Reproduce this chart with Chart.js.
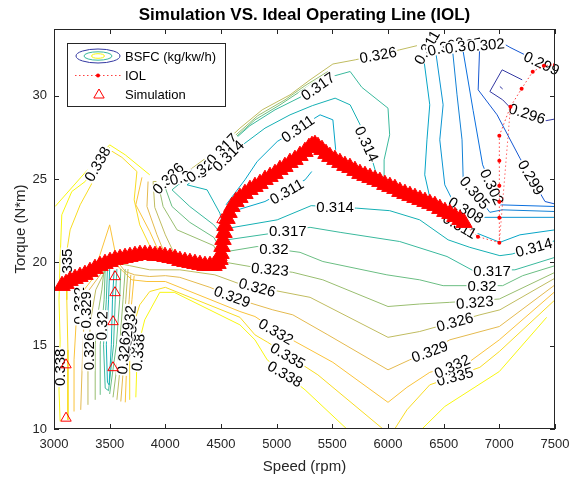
<!DOCTYPE html>
<html>
<head>
<meta charset="utf-8">
<script src="https://cdn.jsdelivr.net/npm/chart.js@4/dist/chart.umd.min.js"></script>
<style>
  html, body { margin: 0; padding: 0; background: #ffffff; }
  #wrap { width: 572px; height: 480px; }
</style>
</head>
<body>
<div id="wrap"><canvas id="map" width="572" height="480"></canvas></div>
<script>
// ---- BSFC contour levels (kg/kW/h) ----
const bsfcLevels = [0.296, 0.299, 0.302, 0.305, 0.308, 0.311, 0.314, 0.317, 0.32, 0.323, 0.326, 0.329, 0.332, 0.335, 0.338];

// Contour polylines per level, as [speed (rpm), torque (N*m)] vertices
const bsfc296 = [
  [[7205,30.95],[7025,31.55],[6915,30.25],[7030,29.75],[7095,29.3],[7420,28.5],[7500,28.6]],
  [[7005,30.55],[7030,30.4]]
];
const bsfc299 = [
  [[6825,33.25],[6810,30.35],[6980,28.85],[7185,26.25],[7410,23.65],[7500,23.5]],
  [[6980,33.35],[7095,32.9],[7230,32.45],[7500,31.55]]
];
const bsfc302 = [
  [[6665,33.05],[6765,29.1],[6850,25.85],[7005,23.45],[7500,23.35]]
];
const bsfc305 = [
  [[6575,33.05],[6620,30.05],[6665,27.35],[6675,25.1],[6915,23.0],[7025,23.15],[7500,23.05]]
];
const bsfc308 = [
  [[6420,33.05],[6495,29.45],[6465,27.35],[6510,24.65],[6600,23.45],[6845,22.7],[7025,22.7],[7500,22.7]]
];
const bsfc311 = [
  [[4545,23.45],[4715,24.95],[4825,26.05],[5005,27.25],[5390,28.85],[5505,28.55],[5530,26.75]],
  [[4600,23.05],[4895,23.65],[5255,24.95],[5315,25.45]],
  [[6305,33.05],[6375,29.45],[6350,27.35],[6330,25.25],[6375,23.9]],
  [[6555,22.45],[6780,21.8],[7005,21.2],[7185,21.65],[7500,21.95]]
];
const bsfc314 = [
  [[3500,19.6],[3490,17.75],[3470,15.05],[3480,12.8],[3495,12.65],[3515,15.05],[3525,17.75],[3540,19.5]],
  [[5910,24.95],[5845,26.45],[5750,28.25],[5660,29.45],[5525,29.85],[5320,29.4],[5120,28.85],[4895,28.05],[4715,27.15],[4355,25.4],[4195,24.65],[4375,24.35],[4490,22.95],[4525,22.0],[5005,22.55],[5310,23.4],[5720,23.25],[6015,23.1],[6285,22.55],[6540,21.35],[6735,20.9],[7005,20.4],[7115,20.5],[7500,21.3]]
];
const bsfc317 = [
  [[3480,19.6],[3470,17.75],[3445,15.05],[3460,12.45],[3490,12.3],[3535,15.05],[3550,17.75],[3565,19.6]],
  [[5970,24.95],[5965,26.15],[6015,27.65],[6000,29.25],[5765,30.5],[5660,31.45],[5525,31.2],[5210,29.9],[4985,29.15],[4760,28.2],[4600,27.25],[4310,25.7],[4060,24.35],[4220,23.35],[4435,22.25],[4525,21.5],[4555,21.35],[4915,21.7],[5300,22.1],[5570,21.8],[6105,21.25],[6530,20.35],[6765,19.5],[7140,19.55],[7500,20.3]]
];
const bsfc320 = [
  [[3415,12.05],[3415,15.05],[3450,17.75],[3460,19.6]],
  [[3500,12.1],[3560,15.05],[3590,17.75],[3600,19.6]],
  [[5405,31.1],[5210,30.25],[5030,29.45],[4805,28.55],[4605,27.35],[4400,25.95],[4220,25.05],[3990,24.65],[4060,23.35],[4220,22.4],[4435,21.5],[4500,20.75],[4555,20.65],[4825,20.95],[5210,20.6],[5415,20.05],[5990,19.25],[6285,18.95],[6495,18.6],[7030,18.6],[7210,19.2],[7500,19.8]]
];
const bsfc323 = [
  [[3370,11.75],[3370,15.05],[3400,17.15],[3430,18.35],[3450,19.6]],
  [[3530,11.9],[3590,15.05],[3620,17.75],[3640,19.6]],
  [[5460,31.45],[5255,30.6],[5075,29.75],[4830,28.8],[4635,27.65],[4420,26.3],[4220,25.25],[3935,24.75],[3980,23.35],[4105,21.95],[4435,21.0],[4500,20.05],[4760,19.75],[5145,19.4],[5415,18.95],[6000,17.35],[6285,17.5],[6555,17.6],[7000,17.8],[7500,19.4]]
];
const bsfc326 = [
  [[3305,11.45],[3305,14.15],[3330,16.55],[3375,18.35],[3500,20.05],[3680,19.8],[3860,19.55],[4130,19.55],[4445,19.25],[4670,18.7],[5030,18.25],[5300,17.9],[6000,15.5],[6285,15.85],[6825,16.85],[7005,17.15],[7500,19.05]],
  [[3565,11.75],[3615,15.05],[3645,17.75],[3665,19.6]],
  [[5505,31.9],[5300,30.95],[5120,30.05],[4870,29.15],[4670,28.05],[4445,26.65],[4220,25.55],[3950,24.85],[3890,24.85],[3905,23.3],[4000,21.65],[4085,20.45]],
  [[5505,31.9],[5705,32.15],[6105,32.75],[6260,33.0]]
];
const bsfc329 = [
  [[3240,11.15],[3255,14.15],[3270,16.55],[3305,18.25],[3415,19.25],[3520,20.45],[3640,19.45],[3725,19.25],[3860,19.15],[4000,19.2],[4130,19.1],[4400,18.5],[4510,18.2],[4670,17.75],[4965,17.15],[5145,16.85],[5460,15.65],[6000,13.55],[6195,14.15],[6375,14.65],[6555,15.35],[7000,16.15],[7500,18.65]],
  [[3600,11.65],[3640,15.05],[3675,17.75],[3690,19.25]],
  [[3845,24.85],[3835,23.35],[3925,21.65],[3980,20.75]]
];
const bsfc332 = [
  [[3180,11.05],[3180,14.15],[3200,16.55],[3235,18.05],[3340,18.95],[3500,22.25],[3575,19.75],[3700,18.95],[3835,18.85],[4000,18.85],[4670,17.05],[4805,16.75],[4985,15.95],[5165,15.25],[5505,14.0],[6000,11.6],[6170,12.5],[6375,13.4],[6735,14.05],[7000,15.35],[7500,18.25]],
  [[3640,11.6],[3660,15.05],[3700,17.75],[3720,19.2]],
  [[3790,25.1],[3735,23.45],[3860,21.85],[3935,20.75]]
];
const bsfc335 = [
  [[3500,26.75],[3370,25.1],[3235,23.45],[3145,21.95],[3110,20.45],[3115,17.75],[3125,14.75],[3125,10.55]],
  [[3680,11.75],[3680,14.15],[3700,15.95],[3770,17.45],[3860,18.25],[4000,18.5],[4670,16.7],[4805,15.65],[4920,15.2],[5370,13.25],[5955,10.0]],
  [[6060,10.0],[6170,11.15],[6375,12.65],[6825,13.7],[7000,14.65],[7500,17.75]],
  [[3500,26.75],[3610,26.3],[3745,25.45],[3720,23.75],[3770,22.25],[3860,21.0]]
];
const bsfc338 = [
  [[3010,23.35],[3500,27.05]],
  [[3500,26.9],[3280,24.85],[3160,24.25],[3070,22.85],[3055,20.15],[3045,17.75],[3055,15.35],[3045,12.35],[3055,10.45]],
  [[3735,11.9],[3745,14.05],[3770,15.35],[3815,16.55],[3950,18.2],[4080,18.2],[4670,16.25],[4805,15.35],[4915,14.15],[5255,12.35],[5630,10.0]],
  [[6305,10.0],[6510,11.35],[7000,13.45],[7425,16.7]],
  [[3500,27.05],[3640,26.45],[3860,25.25]]
];
const contourPaths = [bsfc296, bsfc299, bsfc302, bsfc305, bsfc308, bsfc311, bsfc314,
                      bsfc317, bsfc320, bsfc323, bsfc326, bsfc329, bsfc332, bsfc335, bsfc338];

// Inline contour labels: level, anchor speed, anchor torque, text angle (deg)
const labelLevel  = [0.338,0.338,0.338,0.338, 0.335,0.335,0.335,0.335, 0.332,0.332,0.332,0.332, 0.329,0.329,0.329,0.329, 0.326,0.326,0.326,0.326,0.326,0.326, 0.323,0.323,0.323, 0.32,0.32,0.32,0.32, 0.317,0.317,0.317,0.317, 0.314,0.314,0.314,0.314, 0.311,0.311,0.311,0.311, 0.308,0.308, 0.305,0.305, 0.302,0.302, 0.299,0.299, 0.296];
const labelSpeed  = [3390,3050,5075,3755, 3112,3690,5100,6600, 3220,3675,4995,6575, 3282,3650,4600,6375, 3310,3625,4825,6600,5910,4025, 4940,6780,4205, 3430,4975,6845,4310, 5370,4510,5100,6935, 5810,4565,5525,7310, 5190,5090,6645,6350, 6700,6520, 6780,6680, 6935,6880, 7285,7380, 7250];
const labelTorque = [25.9,13.7,13.3,14.6, 19.7,15.6,14.4,13.15, 17.4,16.3,15.85,13.76, 17.15,15.3,17.95,14.65, 14.65,14.4,18.5,16.43,32.45,25.04, 19.59,17.6,25.2, 16.2,20.81,18.6,25.5, 30.56,26.8,21.89,19.5, 27.1,26.4,23.3,20.9, 28.02,24.25,22.19,32.9, 23.14,32.95, 24.18,33.0, 24.53,33.05, 25.1,31.95, 28.92];
const labelAngle  = [-60,-90,30,-85, -90,-85,30,-15, -90,-85,30,-25, -90,-85,20,-20, -90,-85,15,-15,-10,-45, 5,-5,-15, -88,0,0,-35, -35,-45,0,0, 65,-45,0,-15, -35,-30,30,-60, 30,-15, 50,-10, 65,-5, 60,25, 18];

// ---- Simulated operating points (speed rpm, torque N*m) ----
const simulationPoints = [
  [3072,18.6],[3108,18.72],[3144,18.9],[3189,19.02],[3233,19.14],[3278,19.26],[3323,19.44],[3368,19.62],
  [3413,19.8],[3458,19.92],[3503,20.04],[3548,20.16],[3593,20.22],[3638,20.28],[3682,20.34],[3727,20.4],
  [3772,20.46],[3817,20.46],[3862,20.46],[3907,20.4],[3952,20.4],[3997,20.34],[4042,20.28],[4087,20.22],
  [4131,20.1],[4176,20.04],[4221,19.98],[4266,19.92],[4311,19.86],[4356,19.8],[4401,19.8],[4437,19.8],
  [4473,19.92],[4491,20.16],[4500,20.52],[4509,20.94],[4518,21.36],[4527,21.78],[4536,22.2],[4554,22.62],
  [4572,22.98],[4598,23.34],[4634,23.64],[4670,23.88],[4715,24.12],[4760,24.36],[4805,24.54],[4850,24.72],
  [4895,24.96],[4940,25.14],[4985,25.32],[5029,25.56],[5074,25.74],[5119,25.98],[5164,26.16],[5209,26.4],
  [5254,26.64],[5290,26.88],[5317,27.0],[5344,27.06],[5371,26.94],[5407,26.76],[5443,26.52],[5478,26.34],
  [5523,26.16],[5568,25.98],[5613,25.8],[5658,25.68],[5703,25.5],[5748,25.32],[5793,25.2],[5838,25.08],
  [5883,24.96],[5927,24.84],[5972,24.66],[6017,24.54],[6062,24.42],[6107,24.24],[6152,24.12],[6197,24.0],
  [6242,23.88],[6287,23.76],[6332,23.64],[6376,23.52],[6421,23.4],[6466,23.22],[6511,23.04],[6556,22.92],
  [6601,22.74],[6646,22.56],[6682,22.38]
];
const simulationSpots = [
  [3108,13.85],[3108,10.65],[3548,19.14],[3548,18.18],[3530,16.44],[3530,13.68],
  [4509,22.56],[4509,21.66],[4509,20.88],[4509,20.28]
];

// ---- Ideal operating line ----
const iolSpeed  = [6680, 6808, 7000, 7000, 7000, 7000, 7000, 7000, 7100, 7200, 7300, 7400, 7500];
const iolTorque = [22.3, 21.54, 21.18, 22.68, 23.64, 24.6, 26.1, 27.6, 29.34, 30.42, 31.44, 31.8, 31.86];

// ---- colour map (parula) ----
const parulaStops = [[0.2081,0.1663,0.5292],[0.1959,0.2645,0.7279],[0.0117,0.3875,0.8820],[0.0498,0.4586,0.8641],
  [0.0793,0.5200,0.8312],[0.0343,0.5966,0.8199],[0.0228,0.6535,0.7768],[0.0843,0.6928,0.7062],[0.2178,0.7250,0.6193],
  [0.3953,0.7459,0.5244],[0.5709,0.7485,0.4494],[0.7184,0.7411,0.3905],[0.8507,0.7299,0.3360],[0.9739,0.7314,0.2666],
  [0.9880,0.8066,0.1794],[0.9598,0.9218,0.0948],[0.9763,0.9831,0.0538]];
function parula(t) {
  t = Math.max(0, Math.min(1, t));
  const pos = parulaStops.map((_, i) => i === parulaStops.length - 1 ? 1 : i * 4 / 63);
  let k = 0;
  while (k < pos.length - 2 && t > pos[k + 1]) k++;
  const f = (t - pos[k]) / (pos[k + 1] - pos[k]);
  const a = parulaStops[k], b = parulaStops[k + 1];
  const c = a.map((v, j) => Math.round(255 * (v + (b[j] - v) * f)));
  return `rgb(${c[0]},${c[1]},${c[2]})`;
}
const cLow = 0.2945, cHigh = 0.3385;
const levelColor = lv => parula((lv - cLow) / (cHigh - cLow));

const FONT = '"Liberation Sans", Arial, Helvetica, sans-serif';
const AXIS = '#262626';

// ---- datasets ----
const datasets = [];
bsfcLevels.forEach((lv, i) => {
  contourPaths[i].forEach(path => {
    datasets.push({
      data: path.map(p => ({x: p[0], y: p[1]})),
      showLine: true, borderColor: levelColor(lv), borderWidth: 1,
      pointRadius: 0, pointHoverRadius: 0, tension: 0, fill: false, order: 10
    });
  });
});
datasets.push({
  data: iolSpeed.map((s, i) => ({x: s, y: iolTorque[i]})),
  showLine: true, borderColor: 'rgba(255,0,0,0.75)', borderWidth: 1, borderDash: [1.5, 2.5],
  pointRadius: 2, pointBackgroundColor: '#ff0000', pointBorderColor: '#ff0000', pointBorderWidth: 0,
  tension: 0, order: 3
});
datasets.push({
  data: [{x: iolSpeed[2], y: iolTorque[2]}, {x: iolSpeed[8], y: iolTorque[8]}],
  showLine: true, borderColor: 'rgba(255,0,0,0.6)', borderWidth: 1, borderDash: [1.5, 2.5],
  pointRadius: 0, tension: 0, order: 2
});
datasets.push({
  data: simulationSpots.map(p => ({x: p[0], y: p[1]})),
  showLine: false, pointStyle: 'triangle', pointRadius: 6,
  pointBackgroundColor: 'rgba(255,255,255,0)', pointBorderColor: '#ff0000', pointBorderWidth: 1, order: 1
});
datasets.push({
  data: simulationPoints.map(p => ({x: p[0], y: p[1]})),
  showLine: false, pointStyle: 'triangle', pointRadius: 9.5,
  pointBackgroundColor: '#ff0000', pointBorderColor: '#ff0000', pointBorderWidth: 1, order: 0
});

// ---- decorations: inline labels, axes box with inward ticks, legend ----
const decor = {
  id: 'decor',
  afterDatasetDraw(chart, args) {
    if (args.index !== 0) return;
    const ctx = chart.ctx, xs = chart.scales.x, ys = chart.scales.y;
    ctx.save();
    ctx.font = `15px ${FONT}`;
    ctx.textAlign = 'center';
    ctx.textBaseline = 'middle';
    labelLevel.forEach((lv, i) => {
      const px = xs.getPixelForValue(labelSpeed[i]);
      const py = ys.getPixelForValue(labelTorque[i]);
      const txt = String(lv);
      const w = ctx.measureText(txt).width;
      ctx.save();
      ctx.translate(px, py);
      ctx.rotate(labelAngle[i] * Math.PI / 180);
      ctx.fillStyle = '#ffffff';
      ctx.fillRect(-w / 2 - 1, -6, w + 2, 12);
      ctx.fillStyle = '#000000';
      ctx.fillText(txt, 0, 1);
      ctx.restore();
    });
    ctx.restore();
  },
  afterDatasetsDraw(chart) {
    const ctx = chart.ctx, xs = chart.scales.x, ys = chart.scales.y;
    const {left, right, top, bottom} = chart.chartArea;
    ctx.save();
    ctx.strokeStyle = AXIS;
    ctx.lineWidth = 1;
    ctx.strokeRect(Math.round(left) + 0.5, Math.round(top) + 0.5,
                   Math.round(right) - Math.round(left) - 1, Math.round(bottom) - Math.round(top) - 1);
    ctx.beginPath();
    xs.ticks.forEach(t => {
      const p = Math.round(xs.getPixelForValue(t.value)) + 0.5;
      ctx.moveTo(p, bottom); ctx.lineTo(p, bottom - 5);
      ctx.moveTo(p, top); ctx.lineTo(p, top + 5);
    });
    ys.ticks.forEach(t => {
      const p = Math.round(ys.getPixelForValue(t.value)) + 0.5;
      ctx.moveTo(left, p); ctx.lineTo(left + 5, p);
      ctx.moveTo(right, p); ctx.lineTo(right - 5, p);
    });
    ctx.stroke();
    ctx.restore();
  },
  afterDraw(chart) {
    const ctx = chart.ctx;
    ctx.save();
    // legend box
    ctx.fillStyle = '#ffffff';
    ctx.fillRect(67, 43, 158, 63);
    ctx.strokeStyle = AXIS;
    ctx.lineWidth = 1;
    ctx.strokeRect(67.5, 43.5, 158, 63);
    // BSFC icon: nested contour ellipses
    [[22, 7, 0.296], [14, 4.2, 0.317], [6.5, 2.3, 0.338]].forEach(([rx, ry, lv]) => {
      ctx.beginPath();
      ctx.ellipse(98, 56, rx, ry, 0, 0, Math.PI * 2);
      ctx.strokeStyle = levelColor(lv);
      ctx.stroke();
    });
    // IOL icon
    ctx.beginPath();
    ctx.setLineDash([1.5, 2.5]);
    ctx.strokeStyle = 'rgba(255,0,0,0.75)';
    ctx.moveTo(75, 75.5); ctx.lineTo(121, 75.5);
    ctx.stroke();
    ctx.setLineDash([]);
    ctx.beginPath();
    ctx.arc(98, 75.5, 2, 0, Math.PI * 2);
    ctx.fillStyle = '#ff0000';
    ctx.fill();
    // Simulation icon
    const r = 6, cx = 99, cy = 95;
    ctx.beginPath();
    ctx.moveTo(cx, cy - r);
    ctx.lineTo(cx + r * Math.sin(2 * Math.PI / 3), cy - r * Math.cos(2 * Math.PI / 3));
    ctx.lineTo(cx + r * Math.sin(4 * Math.PI / 3), cy - r * Math.cos(4 * Math.PI / 3));
    ctx.closePath();
    ctx.strokeStyle = '#ff0000';
    ctx.stroke();
    // legend text
    ctx.fillStyle = '#000000';
    ctx.font = `13px ${FONT}`;
    ctx.textAlign = 'left';
    ctx.textBaseline = 'middle';
    ctx.fillText('BSFC (kg/kw/h)', 125, 57);
    ctx.fillText('IOL', 125, 76);
    ctx.fillText('Simulation', 125, 95);
    ctx.restore();
  }
};

new Chart(document.getElementById('map'), {
  type: 'scatter',
  data: { datasets },
  options: {
    responsive: false,
    animation: false,
    devicePixelRatio: 1,
    events: [],
    layout: { padding: { left: 0, right: 17, top: 0, bottom: 0 } },
    plugins: {
      legend: { display: false },
      tooltip: { enabled: false },
      title: {
        display: true, fullSize: false,
        text: 'Simulation VS. Ideal Operating Line (IOL)',
        color: '#000000',
        font: { family: FONT, size: 17, weight: 'bold' },
        padding: { top: 5, bottom: 3.6 }
      }
    },
    scales: {
      x: {
        type: 'linear', min: 3000, max: 7500,
        afterFit(s) { s.height = 51; s.paddingLeft = 0; s.paddingRight = 0; },
        grid: { display: false, drawTicks: false, tickLength: 0 }, border: { display: false },
        ticks: { stepSize: 500, includeBounds: false, autoSkip: false, maxRotation: 0,
                 color: AXIS, font: { family: FONT, size: 13 }, padding: 8,
                 callback: v => String(v) },
        title: { display: true, text: 'Speed (rpm)', color: AXIS,
                 font: { family: FONT, size: 15 }, padding: { top: 0, bottom: 4 } }
      },
      y: {
        type: 'linear', min: 10, max: 34,
        afterFit(s) { s.width = 54; s.paddingTop = 0; s.paddingBottom = 0; },
        grid: { display: false, drawTicks: false, tickLength: 0 }, border: { display: false },
        ticks: { stepSize: 5, includeBounds: false, autoSkip: false,
                 color: AXIS, font: { family: FONT, size: 13 }, padding: 7,
                 callback: v => String(v) },
        title: { display: true, text: 'Torque (N*m)', color: AXIS,
                 font: { family: FONT, size: 15 }, padding: { top: 12, bottom: 0 } }
      }
    }
  },
  plugins: [decor]
});
</script>
</body>
</html>
